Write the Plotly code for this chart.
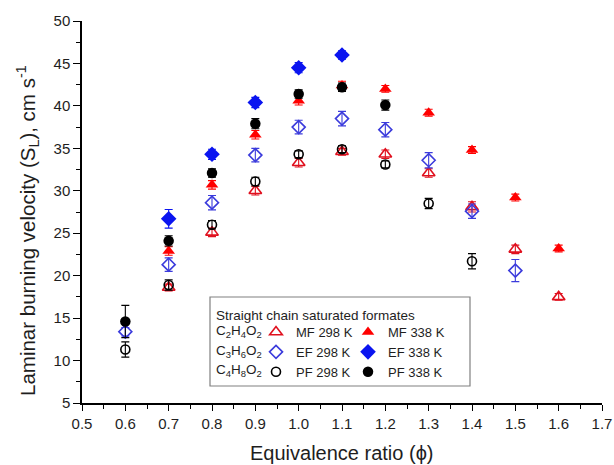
import plotly.graph_objects as go

# Equivalence ratios and measured laminar burning velocities (cm/s)
phi_mf = [0.7, 0.8, 0.9, 1.0, 1.1, 1.2, 1.3, 1.4, 1.5, 1.6]
mf_298 = [18.6, 25.1, 30.0, 33.3, 34.6, 34.3, 32.1, 28.1, 23.1, 17.5]
mf_298_err = [0.4, 0.5, 0.5, 0.5, 0.4, 0.5, 0.5, 0.6, 0.5, 0.4]
mf_338 = [22.9, 30.7, 36.6, 40.6, 42.4, 42.0, 39.2, 34.8, 29.2, 23.2]
mf_338_err = [0.5, 0.5, 0.5, 0.5, 0.5, 0.4, 0.4, 0.4, 0.4, 0.4]

phi_ef298 = [0.6, 0.7, 0.8, 0.9, 1.0, 1.1, 1.2, 1.3, 1.4, 1.5]
ef_298 = [13.4, 21.3, 28.6, 34.2, 37.5, 38.5, 37.2, 33.6, 27.6, 20.6]
ef_298_err = [0.5, 0.8, 0.85, 0.8, 0.8, 0.85, 0.85, 0.9, 0.85, 1.3]
phi_ef338 = [0.7, 0.8, 0.9, 1.0, 1.1]
ef_338 = [26.7, 34.3, 40.4, 44.5, 46.0]
ef_338_err = [1.1, 0.6, 0.6, 0.6, 0.5]

phi_pf298 = [0.6, 0.7, 0.8, 0.9, 1.0, 1.1, 1.2, 1.3, 1.4]
pf_298 = [11.3, 18.9, 26.0, 31.1, 34.3, 34.9, 33.1, 28.5, 21.7]
pf_298_err = [0.9, 0.6, 0.5, 0.5, 0.4, 0.4, 0.4, 0.6, 0.9]
phi_pf338 = [0.6, 0.7, 0.8, 0.9, 1.0, 1.1, 1.2]
pf_338 = [14.6, 24.1, 32.1, 37.9, 41.4, 42.2, 40.1]
pf_338_err = [1.9, 0.6, 0.5, 0.6, 0.5, 0.5, 0.6]

formulas = ["C<sub>2</sub>H<sub>4</sub>O<sub>2</sub>",
            "C<sub>3</sub>H<sub>6</sub>O<sub>2</sub>",
            "C<sub>4</sub>H<sub>8</sub>O<sub>2</sub>"]
legend_title = "Straight chain saturated formates"
x_title = "Equivalence ratio (ϕ)"
y_title = "Laminar burning velocity (S<sub>L</sub>), cm s<sup>-1</sup>"

FONT = "Arial, Liberation Sans, sans-serif"
TXT = "#1e1e1e"
RED_OPEN = "#e0101e"
RED = "#ff0000"
BLUE_OPEN = "#3b3bdc"
BLUE = "#0a14f0"
BLACK = "#000000"

# plot area in pixels (for placing the legend box and titles in paper units)
W, H = 614, 465
L, R, T, B = 82, 12, 21, 62
PW, PH = W - L - R, H - T - B


def px(x):
    return (x - L) / PW


def py(y):
    return (H - B - y) / PH


fig = go.Figure()


def add(x, y, err, name, symbol, color, size, legend, line_w=1.6):
    fig.add_trace(go.Scatter(
        x=x, y=y, mode="markers", name=name, legend=legend,
        marker=dict(symbol=symbol, color=color, size=size,
                    line=dict(color=color, width=line_w)),
        error_y=dict(type="data", array=err, color=color, thickness=1.1, width=4),
    ))


add(phi_mf, mf_298, mf_298_err, "MF 298 K", "triangle-up-open", RED_OPEN, 11, "legend")
add(phi_mf, mf_338, mf_338_err, "MF 338 K", "triangle-up", RED, 11, "legend2", 0)
add(phi_ef298, ef_298, ef_298_err, "EF 298 K", "diamond-open", BLUE_OPEN, 10, "legend")
add(phi_ef338, ef_338, ef_338_err, "EF 338 K", "diamond", BLUE, 12, "legend2", 0)
add(phi_pf298, pf_298, pf_298_err, "PF 298 K", "circle-open", BLACK, 9, "legend")
add(phi_pf338, pf_338, pf_338_err, "PF 338 K", "circle", BLACK, 10.5, "legend2", 0)

axis_common = dict(
    showline=True, linecolor="black", linewidth=1.5, showgrid=False, zeroline=False,
    ticks="outside", tickwidth=1.3, tickcolor="black", automargin=False,
    tickfont=dict(family=FONT, size=15, color=TXT),
)
mirror_common = dict(
    showline=True, linecolor="black", linewidth=1.5, ticks="inside", ticklen=6,
    tickwidth=1.3, showticklabels=False, showgrid=False, zeroline=False, automargin=False,
)

legend_font = dict(family=FONT, size=13, color=TXT)

fig.update_layout(
    width=W, height=H,
    margin=dict(l=L, r=R, t=T, b=B, autoexpand=False),
    paper_bgcolor="white", plot_bgcolor="white",
    font=dict(family=FONT, color=TXT),
    xaxis=dict(range=[0.5, 1.7], dtick=0.1, tick0=0.5, tickformat=".1f", ticklen=6,
               minor=dict(ticks="outside", ticklen=4, dtick=0.05, tickcolor="black", tickwidth=1.2),
               **axis_common),
    yaxis=dict(range=[5, 50], dtick=5, tick0=5, ticklen=7,
               minor=dict(ticks="outside", ticklen=4, dtick=2.5, tickcolor="black", tickwidth=1.2),
               **axis_common),
    # mirrored frame with inward ticks on top and right
    xaxis2=dict(range=[0.5, 1.7], overlaying="x", side="top", dtick=0.1, tick0=0.5,
                minor=dict(ticks="inside", ticklen=4, dtick=0.05, tickwidth=1.2),
                **mirror_common),
    yaxis2=dict(range=[5, 50], overlaying="y", side="right", dtick=5, tick0=5,
                minor=dict(ticks="inside", ticklen=4, dtick=2.5, tickwidth=1.2),
                **mirror_common),
    legend=dict(x=px(256), y=py(317), xanchor="left", yanchor="top",
                bgcolor="rgba(0,0,0,0)", borderwidth=0, tracegroupgap=0,
                font=legend_font, itemwidth=30),
    legend2=dict(x=px(348), y=py(317), xanchor="left", yanchor="top",
                 bgcolor="rgba(0,0,0,0)", borderwidth=0, tracegroupgap=0,
                 font=legend_font, itemwidth=30),
    showlegend=True,
)

# axis titles
fig.add_annotation(xref="paper", yref="paper", x=px(342), y=py(453), xanchor="center",
                   yanchor="middle", text=x_title, showarrow=False,
                   font=dict(family=FONT, size=20, color=TXT))
fig.add_annotation(xref="paper", yref="paper", x=px(27), y=py(231), xanchor="center",
                   yanchor="middle", text=y_title, showarrow=False, textangle=-90,
                   font=dict(family=FONT, size=20.5, color=TXT))

# legend frame, title and formula column
fig.add_shape(type="rect", xref="paper", yref="paper",
              x0=px(210), x1=px(470), y0=py(386), y1=py(297),
              line=dict(color="#808080", width=1.2), fillcolor="rgba(0,0,0,0)", layer="below")
fig.add_annotation(xref="paper", yref="paper", x=px(214), y=py(315), xanchor="left",
                   yanchor="middle", text=legend_title, showarrow=False,
                   font=dict(family=FONT, size=13.5, color=TXT))
for f, yy in zip(formulas, [331, 351, 370]):
    fig.add_annotation(xref="paper", yref="paper", x=px(214), y=py(yy), xanchor="left",
                       yanchor="middle", text=f, showarrow=False,
                       font=dict(family=FONT, size=13.5, color=TXT))

fig.write_html("out.html")
